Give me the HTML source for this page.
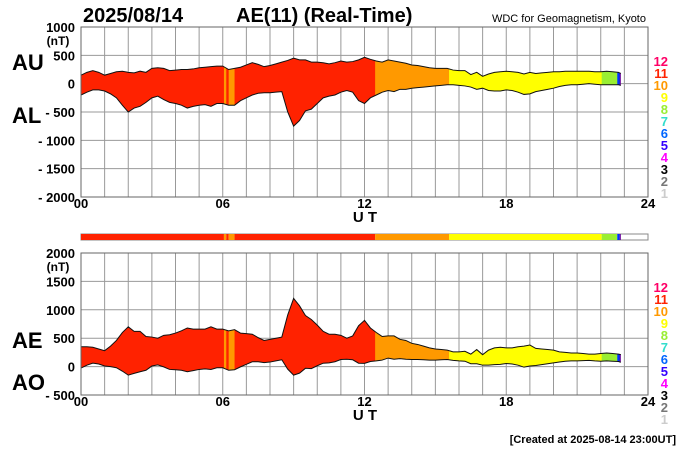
<!DOCTYPE html>
<html><head><meta charset="utf-8"><style>
body{margin:0;background:#fff;}
svg{display:block;font-family:"Liberation Sans",Arial,sans-serif;}
</style></head><body>
<svg id="chart" width="700" height="450"></svg>
<script>
const hours = [];
for (let i = 0; i < 92; i++) hours.push(i * 0.25);
hours.push(22.85);
const auValues = [150,200,230,200,150,180,210,220,200,190,220,200,270,280,270,230,240,250,250,260,280,290,300,310,310,250,270,290,330,370,340,300,320,350,380,410,450,420,420,380,380,370,350,370,400,380,390,420,465,430,400,380,420,400,380,360,330,320,300,280,270,270,270,240,230,230,160,200,130,170,200,210,220,210,200,170,200,180,190,200,210,210,220,220,220,220,220,210,210,220,210,200,180];
const alValues = [-200,-150,-110,-110,-130,-180,-250,-380,-500,-430,-400,-330,-250,-220,-280,-330,-350,-380,-430,-400,-380,-370,-400,-350,-350,-380,-380,-300,-250,-200,-170,-160,-160,-150,-140,-500,-750,-650,-480,-450,-350,-250,-220,-200,-150,-120,-150,-300,-350,-250,-200,-150,-120,-140,-100,-100,-80,-70,-60,-50,-40,-30,-20,-20,-30,-40,-60,-100,-80,-120,-130,-130,-110,-120,-150,-190,-180,-140,-120,-100,-80,-50,-30,-20,-20,-10,0,-10,-20,-20,-20,-20,-30];
const segStart = [0,6.05,6.15,6.25,6.5,12.45,15.58,22.04,22.7,22.8];
const segEnd   = [6.05,6.15,6.25,6.5,12.45,15.58,22.04,22.7,22.8,22.85];
const segColor = ["#ff2200","#ff9900","#ff2200","#ff9900","#ff2200","#ff9900","#ffff00","#99ee33","#0033ff","#660099"];
const legendLabels = ["12","11","10","9","8","7","6","5","4","3","2","1"];
const legendColors = ["#ff0066","#ff2200","#ff9900","#ffff00","#99ee33","#33ddcc","#0066ff","#3300ff","#ff00ff","#000","#777","#ccc"];
const topTicks = [1000,500,0,-500,-1000,-1500,-2000];
const botTicks = [2000,1500,1000,500,0,-500];
const xTickLabels = ["00","06","12","18","24"];

const NS="http://www.w3.org/2000/svg";
const svg=document.getElementById('chart');
function mk(tag,attrs,parent,name,txt){const e=document.createElementNS(NS,tag);for(const k in attrs)e.setAttribute(k,attrs[k]);


if(txt!==undefined)e.textContent=txt;(parent||svg).appendChild(e);return e;}
const X0=81,X1=648;
const xs=h=>X0+(X1-X0)*h/24;
function txt(x,y,s,size,anchor,fill,name,weight){return mk('text',{x:x,y:y,'font-size':size,'text-anchor':anchor||'start',fill:fill||'#000','font-weight':weight||'bold'},svg,name,s);}

function panel(pid,yTop,yBot,vmax,vmin,ticks,upper,lower){
  const ys=v=>yTop+(yBot-yTop)*(vmax-v)/(vmax-vmin);
  const g=mk('g',{},svg,pid+'-panel');
  for(let h=0;h<=24;h++) mk('line',{x1:xs(h),x2:xs(h),y1:yTop,y2:yBot,stroke:'#999','stroke-width':1},g,pid+'-vgrid');
  ticks.forEach(t=>mk('line',{x1:X0,x2:X1,y1:ys(t),y2:ys(t),stroke:'#999','stroke-width':1},g,pid+'-hgrid'));
  let up=hours.map((h,i)=>xs(h)+','+ys(upper[i])), lo=hours.map((h,i)=>xs(h)+','+ys(lower[i])).reverse();
  const poly=up.concat(lo).join(' ');
  segStart.forEach((s,k)=>{
    const cid=pid+'clip'+k;
    const cp=mk('clipPath',{id:cid},g,pid+'-clip');
    mk('rect',{x:xs(s),y:yTop,width:xs(segEnd[k])-xs(s)+0.5,height:yBot-yTop},cp,pid+'-clip-rect');
    mk('polygon',{points:poly,fill:segColor[k],'clip-path':'url(#'+cid+')'},g,pid+'-band-'+k);
  });
  mk('polyline',{points:up.join(' '),fill:'none',stroke:'#111','stroke-width':1},g,pid+'-upper-line');
  mk('polyline',{points:lo.slice().reverse().join(' '),fill:'none',stroke:'#111','stroke-width':1},g,pid+'-lower-line');
  mk('rect',{x:X0,y:yTop,width:X1-X0,height:yBot-yTop,fill:'none',stroke:'#666','stroke-width':1},g,pid+'-frame');
  ticks.forEach(t=>{
    const lab=t<0?'- '+(-t):String(t);
    txt(75,ys(t)+5,lab,13,'end','#000',pid+'-y-tick');
  });
  txt(58,ys(ticks[0])+18,'(nT)',12,'middle','#000',pid+'-unit');
  xTickLabels.forEach((l,i)=>txt(xs(i*6),yBot+11,l,13,'middle','#000',pid+'-x-tick'));
  txt(365,yBot+25,'U T',15,'middle','#000',pid+'-x-title');
  legendLabels.forEach((l,i)=>txt(668,yTop+39+i*12,l,13,'end',legendColors[i],pid+'-legend-entry'));
}

txt(83,22,'2025/08/14',20,'start','#000','date-title');
txt(236,22,'AE(11) (Real-Time)',20,'start','#000','chart-title');
txt(646,22,'WDC for Geomagnetism, Kyoto',11,'end','#000','source-label','normal');

panel('top',27,197,1000,-2000,topTicks,auValues,alValues);
const aeValues=auValues.map((u,i)=>u-alValues[i]);
const aoValues=auValues.map((u,i)=>(u+alValues[i])/2);
mk('rect',{x:X0,y:234,width:X1-X0,height:6,fill:'#fff',stroke:'#888','stroke-width':1},svg,'color-bar-frame');
segStart.forEach((s,k)=>mk('rect',{x:xs(s),y:234,width:xs(segEnd[k])-xs(s),height:6,fill:segColor[k]},svg,'color-bar-segment'));
panel('bottom',253,395,2000,-500,botTicks,aeValues,aoValues);

txt(12,70,'AU',22,'start','#000','au-label');
txt(12,123,'AL',22,'start','#000','al-label');
txt(12,348,'AE',22,'start','#000','ae-label');
txt(12,390,'AO',22,'start','#000','ao-label');
txt(676,443,'[Created at 2025-08-14 23:00UT]',11,'end','#000','created-note');
</script>
</body></html>
